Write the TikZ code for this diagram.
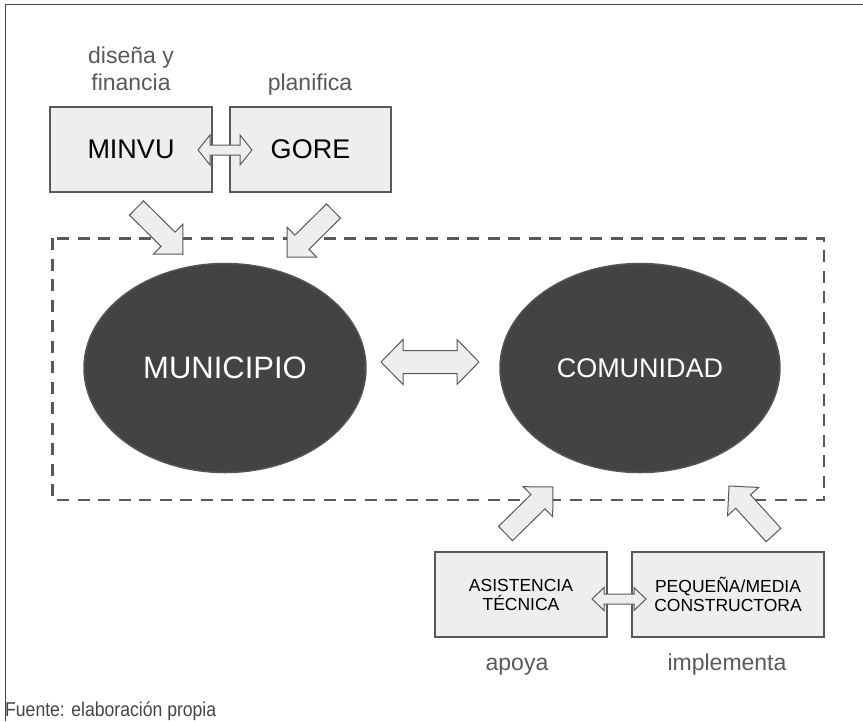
\documentclass[tikz,border=0pt]{standalone}
\usepackage{fontspec}
\setmainfont{Liberation Sans}
\newfontfamily\narrowfont[FakeStretch=0.88]{Liberation Sans}
\usetikzlibrary{calc,shapes.geometric}
\definecolor{boxfill}{HTML}{EEEEEE}
\definecolor{edgegray}{HTML}{595959}
\definecolor{ellfill}{HTML}{434343}
\definecolor{elledge}{HTML}{555555}
\definecolor{labelgray}{HTML}{595959}
\definecolor{framegray}{HTML}{444444}
\tikzset{
  boxnode/.style={draw=edgegray, fill=boxfill, line width=1.5pt, inner sep=0pt,
    minimum height=85pt, text=black, align=center},
  ellnode/.style={ellipse, draw=elledge, fill=ellfill, line width=1.5pt, inner sep=0pt,
    minimum height=209pt, text=white},
  lbl/.style={text=labelgray, align=center, inner sep=0pt, anchor=base,
    font=\fontsize{23}{27}\selectfont},
  blk/.style={draw=edgegray, fill=boxfill, line width=1pt, line join=miter},
  dashbox/.style={draw=edgegray, line width=2.6pt, dash pattern=on 12pt off 8.5pt},
  framestyle/.style={draw=framegray, line width=1.5pt}
}
% single block arrow: #1 tail centre, #2 tip, #3 shaft half width, #4 head half width, #5 head length
\newcommand{\blockarrowpath}[5]{%
  \coordinate (hbx) at ($(#2)!#5!(#1)$);
  \draw[blk] ($(#1)!#3!90:(#2)$) -- ($(hbx)!#3!90:(#2)$) -- ($(hbx)!#4!90:(#2)$) -- (#2)
    -- ($(hbx)!#4!-90:(#2)$) -- ($(hbx)!#3!-90:(#2)$) -- ($(#1)!#3!-90:(#2)$) -- cycle;}
% double block arrow: #1 tip A, #2 tip B, #3 shaft half width, #4 head half width, #5 head length
\newcommand{\dblarrowpath}[5]{%
  \coordinate (hax) at ($(#1)!#5!(#2)$);
  \coordinate (hbx) at ($(#2)!#5!(#1)$);
  \draw[blk] (#1) -- ($(hax)!#4!90:(#2)$) -- ($(hax)!#3!90:(#2)$) -- ($(hbx)!#3!-90:(#1)$)
    -- ($(hbx)!#4!-90:(#1)$) -- (#2) -- ($(hbx)!#4!90:(#1)$) -- ($(hbx)!#3!90:(#1)$)
    -- ($(hax)!#3!-90:(#2)$) -- ($(hax)!#4!-90:(#2)$) -- cycle;}
\begin{document}
\begin{tikzpicture}[x=1pt,y=-1pt]
\useasboundingbox (0,0) rectangle (863,721);
% outer frame
\draw[framestyle] (863,4.5) -- (5.5,4.5) -- (5.5,721);
% dashed region
\draw[dashbox] (52.3,238.3) rectangle (824,500);
% boxes
\node[boxnode, minimum width=162pt, font=\fontsize{27}{32}\selectfont] (minvu) at (131,149.5) {MINVU};
\node[boxnode, minimum width=161pt, font=\fontsize{27}{32}\selectfont] (gore) at (310.5,149.5) {GORE};
\node[boxnode, minimum width=172pt, font=\fontsize{17.5}{19}\selectfont] (asis) at (521,594.5) {ASISTENCIA\\TÉCNICA};
\node[boxnode, minimum width=192pt, font=\fontsize{17.5}{19}\selectfont] (peq) at (728,594.5) {PEQUEÑA/MEDIA\\CONSTRUCTORA};
% ellipses
\node[ellnode, minimum width=282pt, font=\fontsize{31}{37}\selectfont] (muni) at (225,368) {MUNICIPIO};
\node[ellnode, minimum width=280pt, font=\fontsize{27}{32}\selectfont] (comu) at (640,368) {COMUNIDAD};
% labels
\node[lbl] (lminvu) at (131,90) {diseña y\\financia};
\node[lbl] (lgore) at (310,90) {planifica};
\node[lbl] (lasis) at (517,670) {apoya};
\node[lbl] (lpeq) at (727,670) {implementa};
\node[anchor=base west, inner sep=0pt, text=framegray, font=\narrowfont\fontsize{20}{24}\selectfont] (src) at (5,716) {Fuente: elaboración propia};
% arrow end points
\coordinate (a1t) at (136.5,208); \coordinate (a1h) at (183,254);
\coordinate (a2t) at (333.5,211); \coordinate (a2h) at (287,257);
\coordinate (a3t) at (505.5,533.5); \coordinate (a3h) at (553,487);
\coordinate (a4t) at (773.5,535); \coordinate (a4h) at (729,486);
\coordinate (d1a) at (198,150); \coordinate (d1b) at (252,150);
\coordinate (d2a) at (381,362); \coordinate (d2b) at (479,362);
\coordinate (d3a) at (592,599); \coordinate (d3b) at (646,599);
% block arrows
\blockarrowpath{a1t}{a1h}{10pt}{21pt}{21pt}
\blockarrowpath{a2t}{a2h}{10pt}{21pt}{21pt}
\blockarrowpath{a3t}{a3h}{10pt}{21pt}{21pt}
\blockarrowpath{a4t}{a4h}{10pt}{21pt}{21pt}
\dblarrowpath{d1a}{d1b}{5pt}{15pt}{12pt}
\dblarrowpath{d2a}{d2b}{11.5pt}{22.5pt}{22pt}
\dblarrowpath{d3a}{d3b}{5pt}{11.5pt}{12pt}
\end{tikzpicture}
\end{document}
